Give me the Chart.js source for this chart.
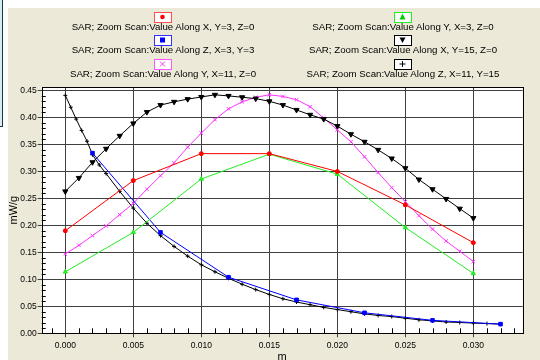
<!DOCTYPE html>
<html>
<head>
<meta charset="utf-8">
<script src="https://cdn.jsdelivr.net/npm/chart.js@4/dist/chart.umd.min.js"></script>
<style>
  html, body { margin: 0; padding: 0; background: #fff; width: 540px; height: 360px; overflow: hidden; }
  #panel { position: absolute; left: 8px; top: 8px; width: 532px; height: 352px; background: #ece9d8; }
  #side { position: absolute; left: 0; top: 0; width: 2px; height: 126px; background: #d4eef2; border-right: 1px solid #1f3340; border-bottom: 1px solid #1f3340; }
  #wrap { position: absolute; left: 0; top: 0; width: 540px; height: 360px; }
  #legend { position: absolute; left: 0; top: 0; width: 540px; height: 86px; font: 9.7px "Liberation Sans", Arial, sans-serif; color: #000; }
  .item { position: absolute; width: 240px; height: 22px; }
  .item svg { position: absolute; left: 111px; top: 0; }
  .item div { position: absolute; left: 0; top: 10px; width: 240px; line-height: 10px; text-align: center; white-space: nowrap; }
</style>
</head>
<body>
<div id="panel"></div>
<div id="side"></div>
<div id="wrap"><canvas id="sarChart" width="540" height="360"></canvas></div>
<div id="legend"></div>
<script>
(function () {
  'use strict'

  // scan positions (m)
  var coarseX = [0.000, 0.005, 0.010, 0.015, 0.020, 0.025, 0.030]
  var fineX = [0.000, 0.001, 0.002, 0.003, 0.004, 0.005, 0.006, 0.007, 0.008, 0.009,
               0.010, 0.011, 0.012, 0.013, 0.014, 0.015, 0.016, 0.017, 0.018, 0.019,
               0.020, 0.021, 0.022, 0.023, 0.024, 0.025, 0.026, 0.027, 0.028, 0.029, 0.030]
  var zCoarseX = [0.002, 0.007, 0.012, 0.017, 0.022, 0.027, 0.032]
  var zFineX = [0.0000, 0.0004, 0.0008, 0.0012, 0.0016, 0.0020, 0.0025, 0.0030, 0.0040,
                0.005, 0.006, 0.007, 0.008, 0.009, 0.010, 0.011, 0.012, 0.013, 0.014,
                0.015, 0.016, 0.017, 0.018, 0.019, 0.020, 0.021, 0.022, 0.023, 0.024,
                0.025, 0.026, 0.027, 0.028, 0.029, 0.030, 0.031, 0.032]

  // SAR values (mW/g)
  var alongX_y3 = [0.190, 0.283, 0.333, 0.333, 0.300, 0.238, 0.168]
  var alongY_x3 = [0.114, 0.187, 0.286, 0.332, 0.295, 0.196, 0.111]
  var alongZ_x3y3 = [0.334, 0.187, 0.104, 0.062, 0.038, 0.024, 0.017]
  var alongX_y15 = [0.263, 0.288, 0.317, 0.342, 0.366, 0.389, 0.410, 0.423, 0.429, 0.434,
                    0.438, 0.442, 0.440, 0.4375, 0.435, 0.430, 0.423, 0.414, 0.405, 0.397,
                    0.384, 0.369, 0.355, 0.340, 0.324, 0.306, 0.285, 0.267, 0.249, 0.231, 0.2135]
  var alongY_x11 = [0.147, 0.163, 0.181, 0.199, 0.220, 0.241, 0.267, 0.292, 0.316, 0.345,
                    0.371, 0.396, 0.416, 0.429, 0.4375, 0.442, 0.439, 0.433, 0.420, 0.399,
                    0.377, 0.355, 0.327, 0.298, 0.270, 0.244, 0.218, 0.193, 0.171, 0.152, 0.133]
  var alongZ_x11y15 = [0.441, 0.419, 0.397, 0.376, 0.356, 0.331, 0.312, 0.296, 0.263,
                       0.232, 0.204, 0.181, 0.161, 0.143, 0.127, 0.114, 0.102, 0.091, 0.081,
                       0.072, 0.064, 0.058, 0.053, 0.048, 0.044, 0.040, 0.036, 0.033, 0.031,
                       0.028, 0.025, 0.023, 0.021, 0.020, 0.019, 0.018, 0.017]

  var labels = [
    'SAR; Zoom Scan:Value Along X, Y=3, Z=0',
    'SAR; Zoom Scan:Value Along Y, X=3, Z=0',
    'SAR; Zoom Scan:Value Along Z, X=3, Y=3',
    'SAR; Zoom Scan:Value Along X, Y=15, Z=0',
    'SAR; Zoom Scan:Value Along Y, X=11, Z=0',
    'SAR; Zoom Scan:Value Along Z, X=11, Y=15'
  ]

  function pts(xs, ys) {
    return xs.map(function (x, i) { return { x: x, y: ys[i] } })
  }

  function series(label, xs, ys, color, style, radius, rotation) {
    return {
      label: label,
      data: pts(xs, ys),
      borderColor: color,
      backgroundColor: color,
      borderWidth: 1,
      pointStyle: style,
      pointRadius: radius,
      pointRotation: rotation || 0,
      pointBorderWidth: 1,
      pointBackgroundColor: color,
      pointBorderColor: color,
      tension: 0
    }
  }

  var datasets = [
    series(labels[0], coarseX, alongX_y3, '#ff0000', 'circle', 2),
    series(labels[1], coarseX, alongY_x3, '#22ee22', 'triangle', 2.5),
    series(labels[2], zCoarseX, alongZ_x3y3, '#0000ff', 'rect', 2.5),
    series(labels[3], fineX, alongX_y15, '#000000', 'triangle', 3, 180),
    series(labels[4], fineX, alongY_x11, '#ff33ff', 'crossRot', 2.5),
    series(labels[5], zFineX, alongZ_x11y15, '#000000', 'cross', 2)
  ]

  // legend: two columns, three rows, marker box above the text
  var markerSvg = [
    '<circle cx="8.5" cy="5" r="2.3" fill="#ff0000"/>',
    '<path d="M8.5 1.5 L11.5 7.5 L5.5 7.5 Z" fill="#00cc00"/>',
    '<rect x="6" y="2.5" width="5" height="5" fill="#0000ff"/>',
    '<path d="M5.5 2.5 L11.5 2.5 L8.5 8 Z" fill="#000"/>',
    '<path d="M6 2.5 L11 7.5 M11 2.5 L6 7.5" stroke="#ff33ff" stroke-width="1"/>',
    '<path d="M8.5 2 L8.5 8 M5.5 5 L11.5 5" stroke="#000" stroke-width="1"/>'
  ]
  var boxColors = ['#ff5050', '#22ee22', '#3030ff', '#000000', '#ff55ff', '#000000']
  var order = [0, 2, 4, 1, 3, 5]
  var legend = document.getElementById('legend')
  order.forEach(function (idx, k) {
    var col = k < 3 ? 0 : 1
    var row = k % 3
    var cx = col === 0 ? 163 : 403
    var el = document.createElement('div')
    el.className = 'item'
    el.style.left = (cx - 120) + 'px'
    el.style.top = (11.5 + row * 23.8) + 'px'
    el.innerHTML = '<svg width="18" height="11" viewBox="0 0 18 11">' +
      '<rect x="0.5" y="0.5" width="17" height="10" fill="#fff" stroke="' + boxColors[idx] + '"/>' +
      markerSvg[idx] + '</svg><div></div>'
    el.querySelector('div').textContent = labels[idx]
    legend.appendChild(el)
  })

  // white plot background, minor ticks and frame
  var framePlugin = {
    id: 'frame',
    beforeDraw: function (chart) {
      var a = chart.chartArea, c = chart.ctx
      c.save()
      c.fillStyle = '#fff'
      c.fillRect(a.left, a.top, a.right - a.left, a.bottom - a.top)
      c.restore()
    },
    afterDraw: function (chart) {
      var a = chart.chartArea, c = chart.ctx
      var xs = chart.scales.x, ys = chart.scales.y
      c.save()
      c.strokeStyle = '#000'
      c.lineWidth = 1
      c.beginPath()
      for (var i = -1; i <= 33; i++) {
        if (i % 5 === 0) continue
        var px = Math.round(xs.getPixelForValue(i / 1000)) + 0.5
        if (px < a.left || px > a.right) continue
        c.moveTo(px, a.bottom)
        c.lineTo(px, a.bottom - 5)
      }
      for (var j = 1; j <= 45; j++) {
        if (j % 5 === 0) continue
        var py = Math.round(ys.getPixelForValue(j / 100)) + 0.5
        c.moveTo(a.left, py)
        c.lineTo(a.left + 4, py)
      }
      c.stroke()
      c.strokeStyle = '#000'
      c.strokeRect(Math.round(a.left) + 0.5, Math.round(a.top) + 0.5,
        Math.round(a.right - a.left), Math.round(a.bottom - a.top))
      c.restore()
    }
  }

  var tickFont = { family: '"Liberation Sans", Arial, sans-serif', size: 8.5 }
  var titleFont = { family: '"Liberation Sans", Arial, sans-serif', size: 11 }

  var ctx = document.getElementById('sarChart')
  var chart = new Chart(ctx, {
    type: 'line',
    data: { datasets: datasets },
    plugins: [framePlugin],
    options: {
      responsive: false,
      animation: false,
      layout: { padding: { left: 0, right: 17.3, top: 87, bottom: 0 } },
      plugins: {
        legend: { display: false },
        tooltip: { enabled: false }
      },
      scales: {
        x: {
          type: 'linear',
          min: -0.001735,
          max: 0.03363,
          afterFit: function (s) { s.height = 26.7 },
          ticks: {
            stepSize: 0.005,
            includeBounds: false,
            autoSkip: false,
            maxRotation: 0,
            padding: 3,
            color: '#000',
            font: tickFont,
            callback: function (v) { return v.toFixed(3) }
          },
          grid: { color: '#404040', lineWidth: 1, tickLength: 4 },
          border: { display: false },
          title: { display: true, text: 'm', color: '#000', font: titleFont, padding: { top: 0, bottom: -3.5 } }
        },
        y: {
          type: 'linear',
          min: 0,
          max: 0.4565,
          afterFit: function (s) { s.width = 41.7 },
          ticks: {
            stepSize: 0.05,
            includeBounds: false,
            padding: 1,
            color: '#000',
            font: tickFont,
            callback: function (v) { return v.toFixed(2) }
          },
          grid: { color: '#404040', lineWidth: 1, tickLength: 4 },
          border: { display: false },
          title: { display: true, text: 'mW/g', color: '#000', font: titleFont, padding: { top: 7.5, bottom: 0 } }
        }
      }
    }
  })
})()
</script>
</body>
</html>
